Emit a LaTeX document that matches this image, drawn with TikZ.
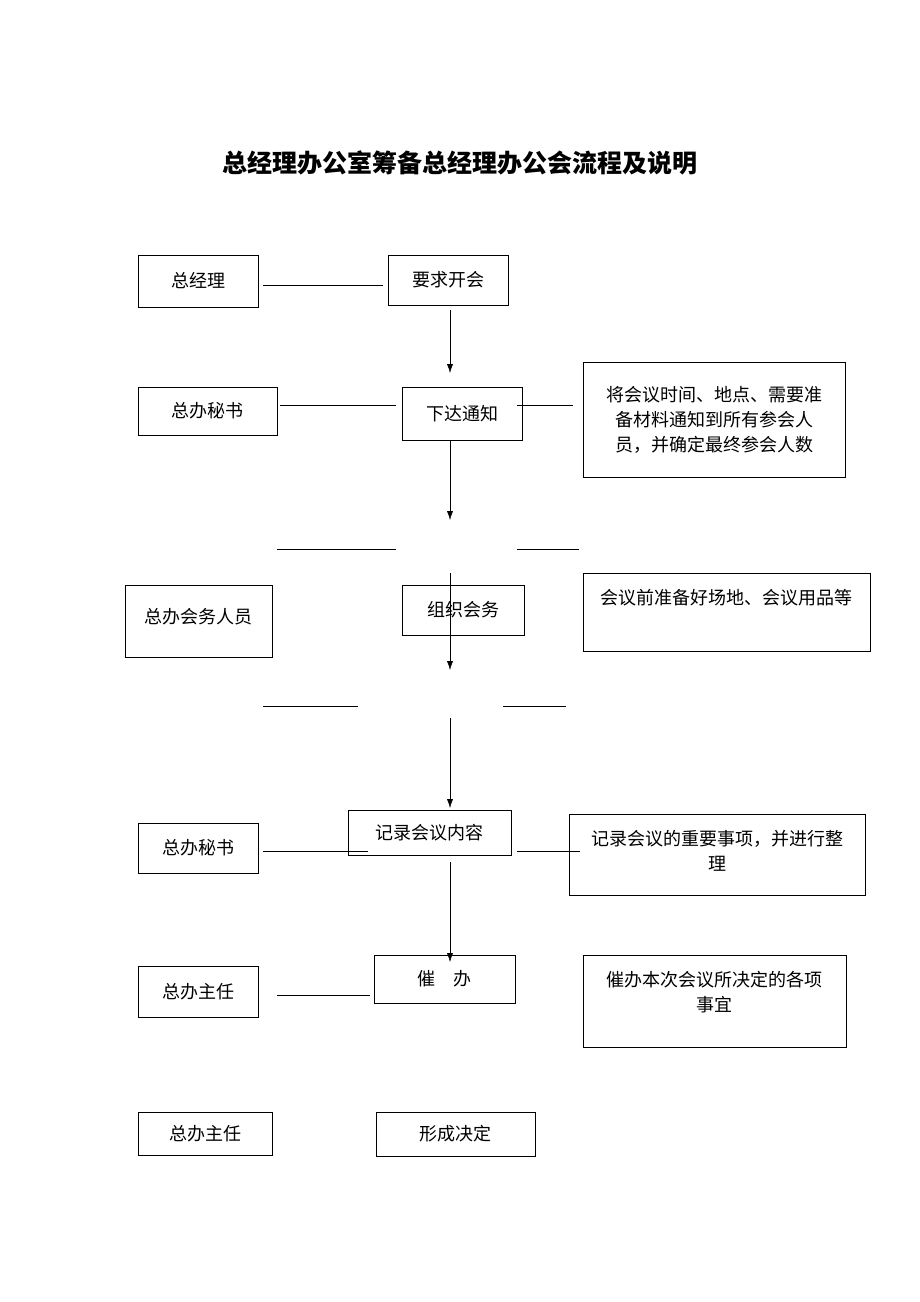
\documentclass[tikz,border=0pt]{standalone}
\usepackage{fontspec}
\setmainfont{Noto Sans CJK SC}
\usetikzlibrary{arrows.meta}
\tikzset{box/.style={draw, thin, inner sep=0pt, font=\fontsize{18}{25}\selectfont, align=center},
  link/.style={thin},
  flow/.style={thin, -{Latex[length=9pt,width=6pt]}}}
\begin{document}
\begin{tikzpicture}[x=1pt,y=-1pt]
  \useasboundingbox (0,0) rectangle (920,1302);
  \node (title) at (460,163) {\fontsize{25}{30}\selectfont\bfseries 总经理办公室筹备总经理办公会流程及说明};
  % rows
  \node [box, minimum width=120, minimum height=52] (zjl) at (198,281) {\raisebox{-4pt}{总经理}};
  \node [box, minimum width=120, minimum height=50] (yqkh) at (448,280) {\raisebox{-4pt}{要求开会}};
  \node [box, minimum width=139, minimum height=48] (zbms1) at (207.5,411) {\raisebox{-5pt}{总办秘书}};
  \node [box, minimum width=120, minimum height=53] (xdtz) at (462,413.5) {\raisebox{-3pt}{下达通知}};
  \node [box, minimum width=262, minimum height=115] (sm1) at (714,419.5) {将会议时间、地点、需要准\\备材料通知到所有参会人\\员，并确定最终参会人数};
  \node [box, minimum width=147, minimum height=72, text depth=10pt] (zbhw) at (198.5,621) {总办会务人员};
  \node [box, minimum width=122, minimum height=50] (zzhw) at (463,610) {\raisebox{-4pt}{组织会务}};
  \node [box, minimum width=287, minimum height=78, text depth=30pt] (sm2) at (726.5,612) {会议前准备好场地、会议用品等};
  \node [box, minimum width=120, minimum height=50] (zbms2) at (198.5,848) {\raisebox{-5pt}{总办秘书}};
  \node [box, minimum width=163, minimum height=45] (jlhy) at (429.5,832.5) {\raisebox{-8pt}{记录会议内容}};
  \node [box, minimum width=296, minimum height=81, text depth=8pt] (sm3) at (717,854.5) {记录会议的重要事项，并进行整\\理};
  \node [box, minimum width=120, minimum height=51] (zbzr1) at (198,991.5) {\raisebox{-5pt}{总办主任}};
  \node [box, minimum width=141, minimum height=48] (cb) at (444.5,979) {\raisebox{-6pt}{催\quad 办}};
  \node [box, minimum width=263, minimum height=92, text depth=20pt] (sm4) at (714.5,1001) {催办本次会议所决定的各项\\事宜};
  \node [box, minimum width=134, minimum height=43] (zbzr2) at (205,1133.5) {\raisebox{-7pt}{总办主任}};
  \node [box, minimum width=159, minimum height=44] (xcjd) at (455.5,1134) {\raisebox{-7pt}{形成决定}};
  % free ends
  \coordinate (a1) at (450,310); \coordinate (a2) at (450,373);
  \coordinate (b1) at (450,440); \coordinate (b2) at (450,520);
  \coordinate (c1) at (450,573); \coordinate (c2) at (450,670);
  \coordinate (d1) at (450,718); \coordinate (d2) at (450,808);
  \coordinate (e1) at (450,862); \coordinate (e2) at (450,962);
  \draw [link] (263,285) -- (383,285);
  \draw [link] (280,405) -- (396,405);
  \draw [link] (517,405) -- (573,405);
  \draw [link] (277,549) -- (396,549);
  \draw [link] (517,549) -- (579,549);
  \draw [link] (263,706) -- (358,706);
  \draw [link] (503,706) -- (566,706);
  \draw [link] (263,851) -- (368,851);
  \draw [link] (517,851) -- (580,851);
  \draw [link] (277,995) -- (370,995);
  \draw [flow] (a1) -- (a2);
  \draw [flow] (b1) -- (b2);
  \draw [flow] (c1) -- (c2);
  \draw [flow] (d1) -- (d2);
  \draw [flow] (e1) -- (e2);
\end{tikzpicture}
\end{document}
